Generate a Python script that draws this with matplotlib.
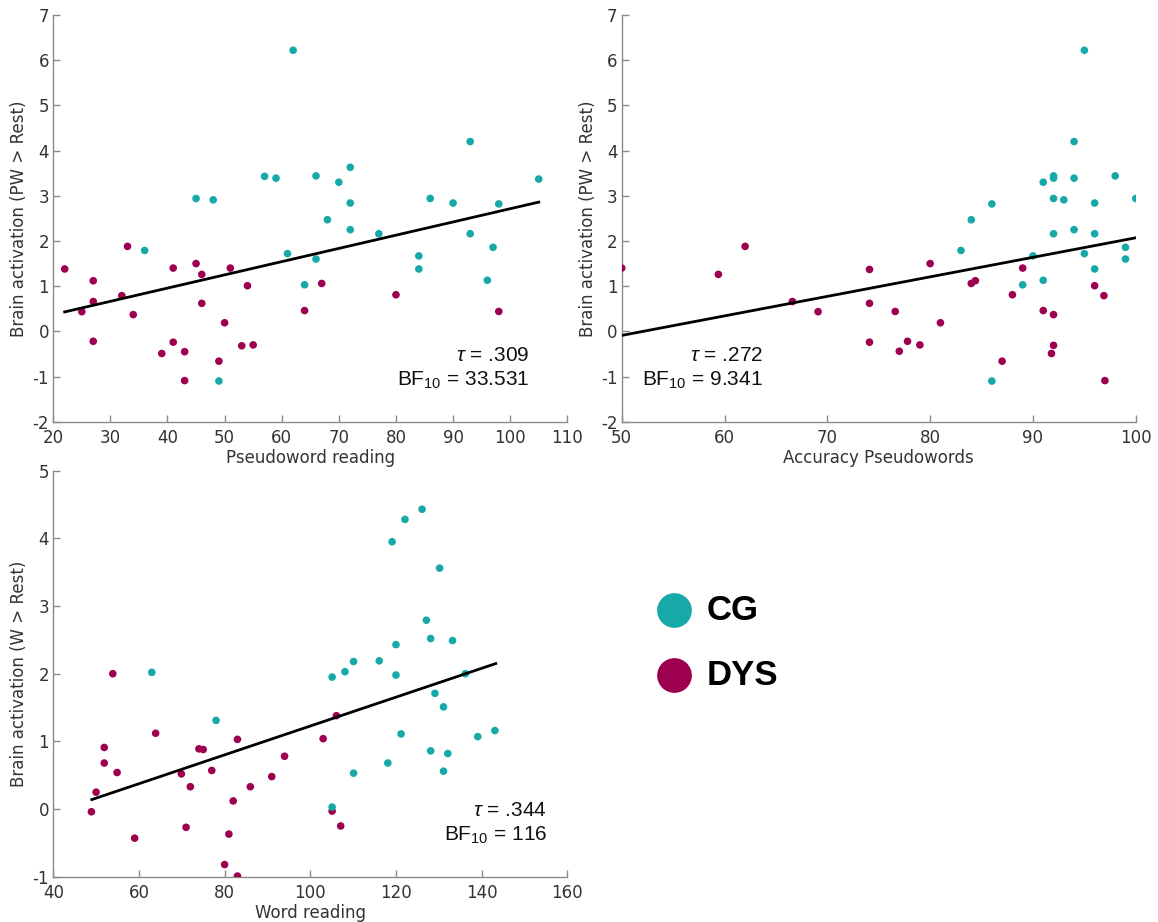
import matplotlib
matplotlib.use("Agg")
import matplotlib.pyplot as plt

# ---------------- data ----------------
TEAL = "#17A8A8"
MAG = "#9E0050"

# Panel 1: Pseudoword reading vs Brain activation (PW > Rest)
pw_cg_x = [62, 45, 48, 57, 59, 36, 61, 49, 93, 66, 72, 70, 72, 68, 72, 77, 86, 90, 98, 105, 93, 97, 66, 84, 84, 64, 96]
pw_cg_y = [6.22, 2.94, 2.91, 3.43, 3.39, 1.79, 1.72, -1.10, 4.20, 3.44, 3.63, 3.30, 2.84, 2.47, 2.25, 2.16, 2.94, 2.84, 2.82, 3.37, 2.16, 1.86, 1.60, 1.67, 1.38, 1.03, 1.13]
pw_dys_x = [22, 25, 27, 27, 27, 32, 33, 34, 39, 41, 41, 43, 43, 45, 46, 46, 49, 50, 51, 53, 54, 55, 67, 64, 80, 98]
pw_dys_y = [1.38, 0.435, 1.12, 0.66, -0.22, 0.79, 1.88, 0.37, -0.49, 1.40, -0.24, -0.45, -1.09, 1.50, 1.26, 0.62, -0.66, 0.19, 1.40, -0.32, 1.01, -0.30, 1.06, 0.46, 0.81, 0.44]
pw_fit_x = [22, 105]
pw_fit_y = [0.43, 2.86]

# Panel 2: Accuracy Pseudowords vs Brain activation (PW > Rest)
acc_cg_x = [95, 94, 92, 92, 94, 98, 91, 92, 93, 86, 96, 100, 84, 92, 94, 96, 83, 90, 95, 99, 99, 96, 89, 91, 86]
acc_cg_y = [6.22, 4.20, 3.44, 3.39, 3.39, 3.44, 3.30, 2.94, 2.91, 2.82, 2.84, 2.94, 2.47, 2.16, 2.25, 2.16, 1.79, 1.67, 1.72, 1.86, 1.60, 1.38, 1.03, 1.13, -1.10]
acc_dys_x = [50, 59.4, 62, 66.6, 69.1, 74.1, 74.1, 74.1, 76.6, 77.0, 77.8, 79.0, 80, 81, 84, 84.4, 88, 89, 87, 91, 92, 92, 91.8, 96, 96.9, 97]
acc_dys_y = [1.40, 1.26, 1.88, 0.66, 0.435, 1.37, 0.62, -0.24, 0.44, -0.44, -0.22, -0.30, 1.50, 0.19, 1.06, 1.12, 0.81, 1.40, -0.66, 0.46, 0.37, -0.31, -0.49, 1.01, 0.79, -1.09]
acc_fit_x = [50, 100]
acc_fit_y = [-0.09, 2.07]

# Panel 3: Word reading vs Brain activation (W > Rest)
w_cg_x = [63, 78, 126.1, 122.1, 119.1, 130.2, 127.1, 128.1, 133.2, 120, 110.1, 116.1, 108.1, 105.1, 120, 136.2, 129.1, 131.1, 121.2, 139.1, 143.1, 128.1, 132.1, 118.1, 110.1, 131.1, 105.1]
w_cg_y = [2.02, 1.31, 4.43, 4.28, 3.95, 3.56, 2.79, 2.52, 2.49, 2.43, 2.18, 2.19, 2.03, 1.95, 1.98, 2.00, 1.71, 1.51, 1.11, 1.07, 1.16, 0.86, 0.82, 0.68, 0.53, 0.56, 0.03]
w_dys_x = [48.9, 50, 51.9, 51.9, 53.9, 54.9, 59, 63.9, 69.9, 71, 72, 74, 75, 77, 80, 81, 82, 83, 83, 86, 91, 94, 106.1, 103, 105.1, 107.1]
w_dys_y = [-0.04, 0.25, 0.91, 0.68, 2.00, 0.54, -0.43, 1.12, 0.52, -0.27, 0.33, 0.89, 0.88, 0.57, -0.82, -0.37, 0.12, 1.03, -0.99, 0.33, 0.48, 0.78, 1.38, 1.04, -0.03, -0.25]
w_fit_x = [49, 143.3]
w_fit_y = [0.14, 2.15]

panels = [
    dict(cgx=pw_cg_x, cgy=pw_cg_y, dx=pw_dys_x, dy=pw_dys_y, fx=pw_fit_x, fy=pw_fit_y,
         xlim=(20, 110), xticks=range(20, 111, 10), ylim=(-2, 7), yticks=range(-2, 8),
         xlabel="Pseudoword reading", ylabel="Brain activation (PW > Rest)",
         tau=".309", bf="33.531", tx=0.9255, pos=[0.046, 0.5426, 0.4439, 0.4411]),
    dict(cgx=acc_cg_x, cgy=acc_cg_y, dx=acc_dys_x, dy=acc_dys_y, fx=acc_fit_x, fy=acc_fit_y,
         xlim=(50, 100), xticks=range(50, 101, 10), ylim=(-2, 7), yticks=range(-2, 8),
         xlabel="Accuracy Pseudowords", ylabel="Brain activation (PW > Rest)",
         tau=".272", bf="9.341", tx=0.275, pos=[0.5369, 0.5426, 0.4439, 0.4411]),
    dict(cgx=w_cg_x, cgy=w_cg_y, dx=w_dys_x, dy=w_dys_y, fx=w_fit_x, fy=w_fit_y,
         xlim=(40, 160), xticks=range(40, 161, 20), ylim=(-1, 5), yticks=range(-1, 6),
         xlabel="Word reading", ylabel="Brain activation (W > Rest)",
         tau=".344", bf="116", tx=0.9605, pos=[0.046, 0.0491, 0.4439, 0.4404]),
]

legend_labels = ["CG", "DYS"]
legend_colors = [TEAL, MAG]

# ---------------- figure ----------------
plt.rcParams["mathtext.fontset"] = "custom"
plt.rcParams["mathtext.rm"] = "Liberation Sans"
plt.rcParams["mathtext.it"] = "Liberation Sans:italic"
plt.rcParams["axes.unicode_minus"] = False

fig = plt.figure(figsize=(11.58, 9.22), dpi=100)

for p in panels:
    ax = fig.add_axes(p["pos"])
    ax.scatter(p["dx"], p["dy"], s=30, color=MAG, edgecolors="none", zorder=3)
    ax.scatter(p["cgx"], p["cgy"], s=30, color=TEAL, edgecolors="none", zorder=3)
    ax.plot(p["fx"], p["fy"], color="black", lw=2, zorder=4)
    ax.set_xlim(*p["xlim"])
    ax.set_ylim(*p["ylim"])
    ax.set_xticks(list(p["xticks"]))
    ax.set_yticks(list(p["yticks"]))
    for s in ["top", "right"]:
        ax.spines[s].set_visible(False)
    for s in ["left", "bottom"]:
        ax.spines[s].set_color("#8a8a8a")
        ax.spines[s].set_linewidth(1.0)
    ax.tick_params(direction="in", length=5, width=1, color="#8a8a8a",
                   labelcolor="#333333", labelsize=12)
    ax.tick_params(axis="x", pad=5)
    ax.tick_params(axis="y", pad=3)
    ax.set_xlabel(p["xlabel"], fontsize=12, color="#333333", labelpad=2)
    ax.set_ylabel(p["ylabel"], fontsize=12, color="#333333", labelpad=3)
    ax.text(p["tx"], 0.150, r"$\tau$ = " + p["tau"], transform=ax.transAxes,
            ha="right", va="baseline", fontsize=15, family="Liberation Sans", color="#111111")
    ax.text(p["tx"], 0.088, r"BF$_{10}$ = " + p["bf"], transform=ax.transAxes,
            ha="right", va="baseline", fontsize=15, family="Liberation Sans", color="#111111")

# legend
lax = fig.add_axes([0, 0, 1, 1])
lax.set_xlim(0, 1158)
lax.set_ylim(922, 0)
lax.axis("off")
for i, (lab, col) in enumerate(zip(legend_labels, legend_colors)):
    yy = 610 + i * 65
    lax.plot([674], [yy], "o", ms=25, color=col, mec="none")
    lax.text(707, yy, lab, fontsize=25, fontweight="bold", family="Liberation Sans",
             va="center", ha="left", color="black")

fig.savefig("out.png", dpi=100)
